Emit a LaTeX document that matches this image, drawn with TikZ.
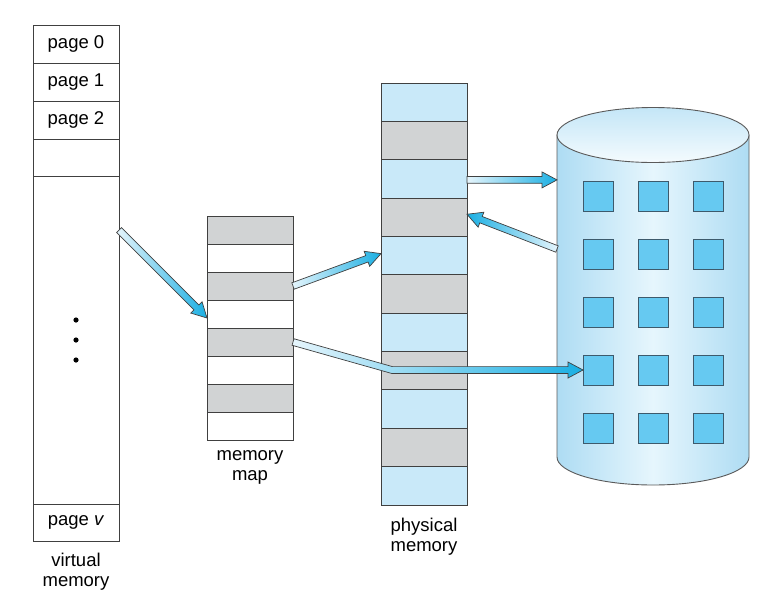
\documentclass[tikz,border=0pt]{standalone}
\usepackage{fontspec}
\setmainfont{Liberation Sans}
\usetikzlibrary{calc}
\definecolor{cellgray}{HTML}{D1D3D4}
\definecolor{pmblue}{HTML}{C9E9F9}
\definecolor{sqblue}{HTML}{66C9F1}
\definecolor{sqedge}{HTML}{3D5A6C}
\definecolor{arrlight}{HTML}{E6F5FC}
\definecolor{arrdark}{HTML}{1AAFE3}
\definecolor{cylside}{HTML}{AEDCF3}
\definecolor{cylmid}{HTML}{E6F6FD}
\definecolor{cyltop}{HTML}{C4E6F7}
\definecolor{cylbot}{HTML}{F4FBFE}
\definecolor{edge}{HTML}{404040}
\definecolor{cyledge}{HTML}{5A5A5A}
\tikzset{
  cell/.style={draw=edge, line width=0.9pt, minimum width=86pt, inner sep=0pt, outer sep=0pt,
    font=\fontsize{18.5}{20}\selectfont},
  lbl/.style={align=center, inner sep=0pt, font=\fontsize{18.5}{20}\selectfont},
  sq/.style={draw=sqedge, fill=sqblue, line width=0.9pt, minimum size=30pt, inner sep=0pt, outer sep=0pt},
  fatarr/.style={draw=edge, line width=0.7pt, line join=miter},
}
\newcommand\myfatarrow[3]{%
  \coordinate (fah) at ($(#3)!15pt!(#2)$);
  \path[fatarr,#1] ($(#2)!3.4pt!90:(#3)$) -- ($(fah)!3.4pt!-90:(#2)$) -- ($(fah)!8pt!-90:(#2)$)
    -- (#3) -- ($(fah)!8pt!90:(#2)$) -- ($(fah)!3.4pt!90:(#2)$) -- ($(#2)!3.4pt!-90:(#3)$) -- cycle;}
\begin{document}
\begin{tikzpicture}[x=1pt, y=-1pt]
\useasboundingbox (0,0) rectangle (775,598);
% virtual memory
\node[cell, minimum height=38pt] (vm0) at (76,44) {page 0};
\node[cell, minimum height=38pt] (vm1) at (76,82) {page 1};
\node[cell, minimum height=38pt] (vm2) at (76,120) {page 2};
\node[cell, minimum height=37pt] (vm3) at (76,157.5) {};
\node[cell, minimum height=328pt] (vmbig) at (76,340) {};
\node[cell, minimum height=37pt] (vmv) at (76,522.5) {page \textit{v}};
\fill[black] (76,320) circle (2.6pt) (76,340) circle (2.6pt) (76,360) circle (2.6pt);
\node[lbl] (vmlabel) at (76,572) {virtual\\memory};
% memory map
\foreach \i [evaluate=\i as \yy using 202+28*\i] in {1,3,5,7}
  \node[cell, fill=cellgray, minimum height=28pt] (mm\i) at (250,\yy) {};
\foreach \i [evaluate=\i as \yy using 202+28*\i] in {2,4,6,8}
  \node[cell, fill=white, minimum height=28pt] (mm\i) at (250,\yy) {};
\node[lbl] (mmlabel) at (250,467) {memory\\map};
% physical memory
\foreach \i [evaluate=\i as \yy using 63.82+38.36*\i] in {1,3,5,7,9,11}
  \node[cell, fill=pmblue, minimum height=38.36pt] (pm\i) at (424,\yy) {};
\foreach \i [evaluate=\i as \yy using 63.82+38.36*\i] in {2,4,6,8,10}
  \node[cell, fill=cellgray, minimum height=38.36pt] (pm\i) at (424,\yy) {};
\node[lbl] (pmlabel) at (424,537) {physical\\memory};
% disk
\path[draw=cyledge, line width=0.9pt, left color=cylside, right color=cylside, middle color=cylmid]
  (557,135) -- (557,457) .. controls (557,472.5) and (600,485) .. (653,485)
  .. controls (706,485) and (749,472.5) .. (749,457) -- (749,135) -- cycle;
\path[draw=cyledge, line width=0.9pt, top color=cyltop, bottom color=cylbot]
  (653,135) ellipse [x radius=96, y radius=27.5];
\coordinate (disk) at (557,135);
\foreach \r/\yy in {1/196,2/254,3/312,4/370,5/428.5}
  \foreach \c/\xx in {1/598,2/653,3/708}
    \node[sq] (sq\r\c) at (\xx,\yy) {};
% arrow end points
\coordinate (a1s) at ($(vmbig.north east)+(0,54)$);
\coordinate (a1t) at ($(mm4.west)+(0,4)$);
\coordinate (a2s) at (mm3.east);
\coordinate (a2t) at ($(pm5.west)+(0,-2)$);
\coordinate (a3s) at ($(pm3.east)+(0,1)$);
\coordinate (a3t) at (disk |- a3s);
\coordinate (a4s) at ($(disk |- sq21)+(0,-5)$);
\coordinate (a4t) at ($(pm4.east)+(0,-3)$);
% arrows
\myfatarrow{left color=arrlight, right color=arrdark}{a1s}{a1t}
\myfatarrow{left color=arrlight, right color=arrdark}{a2s}{a2t}
\myfatarrow{left color=arrlight, right color=arrdark}{a3s}{a3t}
\myfatarrow{left color=arrdark, right color=arrlight}{a4s}{a4t}
% bent arrow from memory map to disk
\coordinate (a5s) at (mm5.east);
\coordinate (a5t) at (sq41.west);
\coordinate (a5k) at ($(pm1.west |- a5t)+(11,0)$);
\coordinate (a5h) at ($(a5t)+(-15,0)$);
\coordinate (p1) at ($(a5s)!3.4pt!90:(a5k)$);
\coordinate (p1b) at ($(a5k)!3.4pt!-90:(a5s)$);
\coordinate (p2) at ($(a5s)!3.4pt!-90:(a5k)$);
\coordinate (p2b) at ($(a5k)!3.4pt!90:(a5s)$);
\coordinate (kt) at ($(a5k)+(0,-3.4)$);
\coordinate (ht) at ($(a5h)+(0,-3.4)$);
\coordinate (kb) at ($(a5k)+(0,3.4)$);
\coordinate (hb) at ($(a5h)+(0,3.4)$);
\coordinate (m1) at (intersection of p1--p1b and kt--ht);
\coordinate (m2) at (intersection of p2--p2b and kb--hb);
\path[fatarr, left color=arrlight, right color=arrdark]
  (p1) -- (m1) -- (ht) -- ($(a5h)+(0,-8)$) -- (a5t) -- ($(a5h)+(0,8)$) -- (hb) -- (m2) -- (p2) -- cycle;
\end{tikzpicture}
\end{document}
